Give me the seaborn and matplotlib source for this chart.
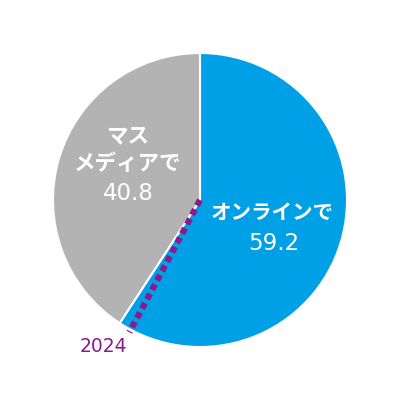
import numpy as np
import matplotlib
matplotlib.use("Agg")
import matplotlib.pyplot as plt
import seaborn as sns

# Data
categories = ["オンラインで", "マス\nメディアで"]
values = [59.2, 40.8]
value_labels = ["59.2", "40.8"]
prev_year_label = "2024"
prev_online_value = 57.8  # previous year's online share (dotted marker)

sns.set_style("white")
plt.rcParams['font.family'] = ['Noto Sans CJK JP', 'DejaVu Sans']

colors = ["#00A0E6", "#B3B3B3"]
purple = "#8C1A8C"

fig = plt.figure(figsize=(4, 4), dpi=100)
ax = fig.add_axes([0, 0, 1, 1])
R = 147
ax.pie(values, startangle=90, counterclock=False, radius=R, colors=colors,
       wedgeprops=dict(edgecolor="white", linewidth=1.5))
ax.set_xlim(-200, 200)
ax.set_ylim(-200, 200)
ax.set_aspect("equal")
ax.axis("off")

# dotted marker for previous year's share
theta = np.deg2rad(prev_online_value / 100 * 360)
L = R * 1.02
ex, ey = L * np.sin(theta), L * np.cos(theta)
ax.plot([0, ex], [0, ey], color=purple, lw=4.5, linestyle=(0, (1, 0.7)),
        solid_capstyle="butt", dash_capstyle="butt", zorder=5)
ax.text(ex - 26, ey - 14, prev_year_label, color=purple, fontsize=13.5,
        family="DejaVu Sans", ha="center", va="center")

# labels
ax.text(72, -12, categories[0], color="white", fontsize=14.8, fontweight="bold",
        ha="center", va="center", family=['Noto Sans CJK JP', 'DejaVu Sans'])
ax.text(74, -44, value_labels[0], color="white", fontsize=16.5,
        ha="center", va="center", family="DejaVu Sans")
ax.text(-72, 50, categories[1], color="white", fontsize=15.5, fontweight="bold",
        ha="center", va="center", linespacing=1.4,
        family=['Noto Sans CJK JP', 'DejaVu Sans'])
ax.text(-72, 6, value_labels[1], color="white", fontsize=16.5,
        ha="center", va="center", family="DejaVu Sans")

fig.savefig("out.png", dpi=100, facecolor="white")
